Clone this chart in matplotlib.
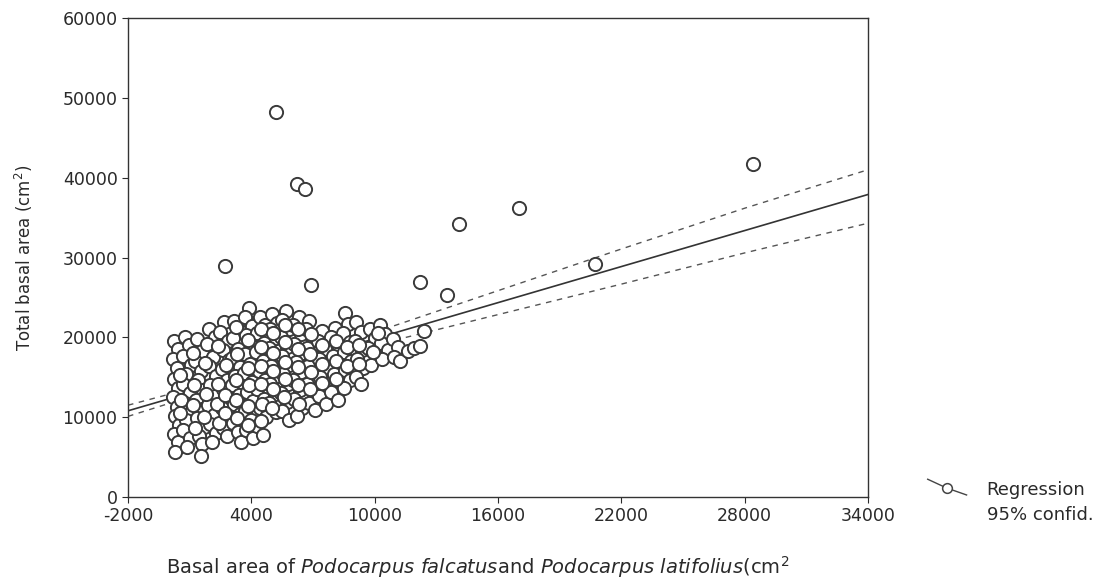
import numpy as np
import matplotlib
matplotlib.use('Agg')
import matplotlib.pyplot as plt
from matplotlib.lines import Line2D

plt.rcParams['font.family'] = ['DejaVu Sans']
plt.rcParams['mathtext.fontset'] = 'dejavusans'
plt.rcParams['axes.unicode_minus'] = False

# main cloud (x, y)
cloud = [
    (250, 19600), (420, 18500), (180, 17300), (380, 16100), (260, 14800), (450, 13700),
    (200, 12500), (400, 11300), (280, 10100), (460, 9000), (230, 7900), (410, 6900), (300, 5700),
    (760, 20100), (980, 19000), (700, 17700), (1050, 16600), (820, 15400), (680, 14200),
    (1000, 13000), (760, 11800), (1080, 10700), (840, 9600), (700, 8400), (1020, 7400), (880, 6300),
    (1350, 19800), (1600, 18300), (1280, 17000), (1550, 15800), (1400, 14600), (1650, 13400),
    (1300, 12200), (1580, 11000), (1380, 9900), (1700, 8800), (1450, 7700), (1620, 6600), (1550, 5100),
    (1950, 21000), (2250, 20000), (1850, 19200), (2150, 17600), (1950, 16400), (2300, 15100),
    (2000, 14000), (2250, 12700), (1900, 11500), (2200, 10300), (2000, 9200), (2300, 8000), (2100, 6900),
    (2650, 21900), (2500, 20700), (2850, 19600), (2600, 18400), (2900, 17200), (2550, 16000),
    (2800, 14700), (2600, 13500), (2900, 12300), (2550, 11100), (2850, 9900), (2600, 8700), (2800, 7600),
    (3150, 22000), (3400, 20900), (3100, 19900), (3350, 18600), (3050, 17400), (3450, 16300),
    (3200, 15200), (3050, 14000), (3400, 12800), (3150, 11600), (3450, 10400), (3100, 9300),
    (3350, 8200), (3500, 6900),
    (3900, 23700), (3700, 22500), (4050, 21400), (3750, 20300), (4000, 19100), (3700, 17900),
    (3950, 16700), (3650, 15500), (4050, 14400), (3800, 13200), (4100, 12000), (3700, 10800),
    (4000, 9600), (3750, 8400), (4100, 7400),
    (4400, 22600), (4650, 21500), (4300, 20500), (4600, 19300), (4250, 18200), (4550, 17000),
    (4350, 15800), (4650, 14700), (4300, 13500), (4600, 12300), (4400, 11100), (4700, 10000),
    (4300, 8900), (4550, 7800),
    (5000, 22900), (5250, 21800), (4900, 21000), (5200, 19900), (4850, 18700), (5150, 17600),
    (4950, 16400), (5250, 15200), (4900, 14100), (5150, 12900), (4850, 11800), (5200, 10600),
    (5700, 23300), (5500, 22200), (5850, 21100), (5450, 20000), (5750, 18800), (5500, 17700),
    (5850, 16500), (5550, 15400), (5800, 14200), (5450, 13000), (5750, 11900), (5500, 10800),
    (5850, 9600),
    (6300, 22600), (6050, 21500), (6400, 20400), (6100, 19200), (6450, 18100), (6150, 16900),
    (6400, 15700), (6050, 14600), (6350, 13400), (6100, 12300), (6450, 11200), (6200, 10100),
    (6800, 22100), (6650, 21000), (7000, 19800), (6700, 18700), (7050, 17500), (6750, 16400),
    (7000, 15200), (6700, 14100), (7050, 12900), (6800, 11800), (7100, 10900),
    (7450, 20800), (7250, 19600), (7600, 18500), (7300, 17300), (7650, 16200), (7350, 15000),
    (7600, 13800), (7300, 12700), (7650, 11600),
    (8050, 21200), (7900, 20000), (8250, 18900), (7950, 17700), (8300, 16600), (8000, 15400),
    (8250, 14200), (7900, 13100), (8200, 12200),
    (8550, 23000), (8700, 21700), (8450, 20500), (8800, 19400), (8500, 18200), (8850, 17000),
    (8550, 15900), (8800, 14700), (8500, 13600),
    (9100, 21900), (9350, 20700), (9050, 19600), (9400, 18400), (9150, 17300), (9450, 16100),
    (9100, 15000), (9350, 14100),
    (9750, 21000), (10000, 19900), (9700, 18700), (10050, 17600), (9800, 16500),
    (10250, 21500), (10500, 20400), (10300, 19300), (10650, 18400), (10350, 17300),
    (10900, 19800), (11150, 18800), (10950, 17500), (11250, 17000),
    (11600, 18300), (11900, 18700), (12200, 18900), (12400, 20800),
]

# extra overlapping points in the dense middle of the cloud
cloud_fill = [
    (550, 15300), (600, 12100), (520, 10500), (1150, 18100), (1200, 14000), (1150, 11500),
    (1250, 8700), (1750, 16800), (1800, 12900), (1700, 10000), (2400, 18900), (2400, 14200),
    (2350, 11700), (2450, 9300), (2750, 16500), (2700, 12800), (2700, 10500), (3250, 21300),
    (3300, 17900), (3250, 14700), (3250, 12200), (3300, 9900), (3850, 19700), (3850, 16100),
    (3900, 14000), (3850, 11400), (3850, 9000), (4450, 21000), (4450, 18800), (4450, 16400),
    (4450, 14100), (4500, 11700), (4450, 9500), (5050, 20500), (5050, 18100), (5050, 15800),
    (5050, 13500), (5000, 11200), (5650, 21600), (5650, 19400), (5650, 16900), (5650, 14800),
    (5600, 12500), (6250, 21000), (6250, 18600), (6250, 16300), (6250, 14000), (6300, 11700),
    (6900, 20400), (6850, 17900), (6900, 15700), (6850, 13500), (7450, 19000), (7450, 16700),
    (7450, 14300), (8100, 19500), (8100, 17100), (8100, 14800), (8650, 18800), (8650, 16400),
    (9250, 19100), (9250, 16700), (9900, 18200), (10150, 20600),
]

# isolated points
outliers = [
    (5200, 48200), (6200, 39200), (6600, 38600), (2700, 29000), (6900, 26500),
    (12200, 26900), (13500, 25300), (14100, 34200), (17000, 36200),
    (20700, 29200), (28400, 41700),
]

# regression line and 95% confidence band
band_x = [-2000, 2000, 6000, 10000, 16000, 22000, 28000, 34000]
reg_y = [10800, 13800, 16800, 19830, 24350, 28870, 33380, 37900]
upper_y = [11500, 14250, 17200, 20630, 25850, 31070, 36180, 41000]
lower_y = [10100, 13350, 16400, 19030, 22850, 26670, 30580, 34300]

pts = np.array(cloud + cloud_fill + outliers)

fig = plt.figure(figsize=(11.11, 5.83), dpi=100)
ax = fig.add_axes([0.1152, 0.1475, 0.6661, 0.8215])

ax.plot(band_x, reg_y, '-', color='#333333', lw=1.2, zorder=1)
ax.plot(band_x, upper_y, '--', color='#555555', lw=1.0, dashes=(4, 4), zorder=1)
ax.plot(band_x, lower_y, '--', color='#555555', lw=1.0, dashes=(4, 4), zorder=1)
ax.plot(pts[:, 0], pts[:, 1], 'o', ms=9.5, mfc='white', mec='#3a3a3a', mew=1.4,
        linestyle='none', zorder=2)

ax.set_xlim(-2000, 34000)
ax.set_ylim(0, 60000)
ax.set_xticks(np.arange(-2000, 34001, 6000))
ax.set_yticks(np.arange(0, 60001, 10000))
ax.tick_params(direction='out', length=4, width=0.8, labelsize=12.5, colors='#2a2a2a')
for s in ax.spines.values():
    s.set_color('#333333')
    s.set_linewidth(1.0)

ax.set_ylabel(r'Total basal area (cm$^2$)', fontsize=12, color='#2a2a2a')
ax.yaxis.set_label_coords(-0.126, 0.5)
fig.text(0.43, 0.028,
         r'Basal area of $\it{Podocarpus\ falcatus}$and $\it{Podocarpus\ latifolius}$(cm$^2$',
         ha='center', va='center', fontsize=14, color='#2a2a2a')

# legend outside on the right
fig.add_artist(Line2D([0.835, 0.852, 0.870], [0.178, 0.163, 0.151],
                      transform=fig.transFigure, color='#444444', lw=1.0))
fig.add_artist(Line2D([0.852], [0.163], transform=fig.transFigure, marker='o', ms=7,
                      mfc='white', mec='#444444', mew=1.1))
fig.text(0.888, 0.160, 'Regression', fontsize=13, color='#2a2a2a', va='center')
fig.text(0.888, 0.117, '95% confid.', fontsize=13, color='#2a2a2a', va='center')

fig.savefig('out.png', dpi=100)
